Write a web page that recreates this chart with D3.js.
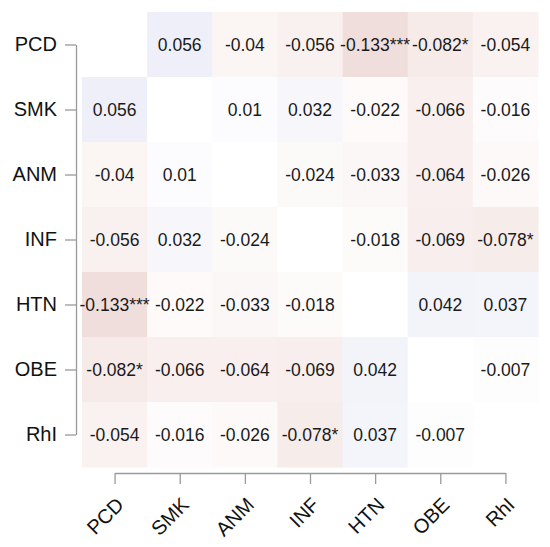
<!DOCTYPE html>
<html>
<head>
<meta charset="utf-8">
<script src="https://cdn.jsdelivr.net/npm/d3@7"></script>
<style>
  html, body { margin: 0; padding: 0; background: #ffffff; }
  svg { display: block; font-family: "Liberation Sans", Arial, Helvetica, sans-serif; }
</style>
</head>
<body>
<svg id="chart" width="550" height="547"></svg>
<script>
// ---- data ----
const variables = ["PCD", "SMK", "ANM", "INF", "HTN", "OBE", "RhI"];
const rowPCD = [null, 0.056, -0.04, -0.056, -0.133, -0.082, -0.054];
const rowSMK = [0.056, null, 0.01, 0.032, -0.022, -0.066, -0.016];
const rowANM = [-0.04, 0.01, null, -0.024, -0.033, -0.064, -0.026];
const rowINF = [-0.056, 0.032, -0.024, null, -0.018, -0.069, -0.078];
const rowHTN = [-0.133, -0.022, -0.033, -0.018, null, 0.042, 0.037];
const rowOBE = [-0.082, -0.066, -0.064, -0.069, 0.042, null, -0.007];
const rowRhI = [-0.054, -0.016, -0.026, -0.078, 0.037, -0.007, null];
const correlations = [rowPCD, rowSMK, rowANM, rowINF, rowHTN, rowOBE, rowRhI];
// significance marks: [row, col, stars]
const significance = [
  ["PCD", "HTN", "***"], ["HTN", "PCD", "***"],
  ["PCD", "OBE", "*"], ["OBE", "PCD", "*"],
  ["INF", "RhI", "*"], ["RhI", "INF", "*"]
];

// ---- build cells ----
const cells = [];
variables.forEach((r, i) => {
  variables.forEach((c, j) => {
    const v = correlations[i][j];
    const sig = significance.find(s => s[0] === r && s[1] === c);
    cells.push({ row: r, col: c, value: v, stars: sig ? sig[2] : "" });
  });
});

const svg = d3.select("#chart");

const x = d3.scaleBand().domain(variables).range([82, 538]).padding(0);
const y = d3.scaleBand().domain(variables).range([12, 467]).padding(0);

const color = d3.scaleLinear()
  .domain([-0.2, 0, 0.2])
  .range(["#e9cdca", "#ffffff", "#c6c6e8"])
  .clamp(true);

const g = svg.append("g");

g.selectAll("rect.cell")
  .data(cells)
  .join("rect")
  .attr("class", "cell")
  .attr("x", d => x(d.col))
  .attr("y", d => y(d.row))
  .attr("width", x.bandwidth() + 0.5)
  .attr("height", y.bandwidth() + 0.5)
  .attr("fill", d => d.value === null ? "#ffffff" : color(d.value));

g.selectAll("text.val")
  .data(cells.filter(d => d.value !== null))
  .join("text")
  .attr("class", "val")
  .attr("x", d => x(d.col) + x.bandwidth() / 2)
  .attr("y", d => y(d.row) + y.bandwidth() / 2)
  .attr("text-anchor", "middle")
  .attr("dominant-baseline", "central")
  .attr("font-size", 17.5)
  .attr("fill", "#1a1a1a")
  .text(d => String(d.value) + d.stars);

// ---- y axis ----
const yAxisG = svg.append("g").attr("transform", "translate(76,0)");
const yPts = d3.scalePoint().domain(variables).range([y("PCD") + y.bandwidth() / 2, y("RhI") + y.bandwidth() / 2]);
const yAxis = d3.axisLeft(yPts).tickSize(11).tickPadding(8).tickSizeOuter(0);
yAxisG.call(yAxis);
yAxisG.select(".domain").attr("stroke", "#9a9a9a").attr("stroke-width", 1.3);
yAxisG.selectAll(".tick line").attr("stroke", "#9a9a9a").attr("stroke-width", 1.3);
yAxisG.selectAll(".tick text")
  .attr("font-size", 20)
  .attr("fill", "#111111")
  .attr("font-family", "Liberation Sans, Arial, sans-serif");

// ---- x axis ----
const xAxisG = svg.append("g").attr("transform", "translate(0,473)");
const xPts = d3.scalePoint().domain(variables).range([x("PCD") + x.bandwidth() / 2, x("RhI") + x.bandwidth() / 2]);
const xAxis = d3.axisBottom(xPts).tickSize(11).tickSizeOuter(0);
xAxisG.call(xAxis);
xAxisG.select(".domain").attr("stroke", "#9a9a9a").attr("stroke-width", 1.3);
xAxisG.selectAll(".tick line").attr("stroke", "#9a9a9a").attr("stroke-width", 1.3);
xAxisG.selectAll(".tick text")
  .attr("font-size", 20)
  .attr("fill", "#111111")
  .attr("font-family", "Liberation Sans, Arial, sans-serif")
  .attr("text-anchor", "end")
  .attr("dy", null)
  .attr("y", 0)
  .attr("x", 0)
  .attr("transform", "translate(10,33) rotate(-45)");
</script>
</body>
</html>
